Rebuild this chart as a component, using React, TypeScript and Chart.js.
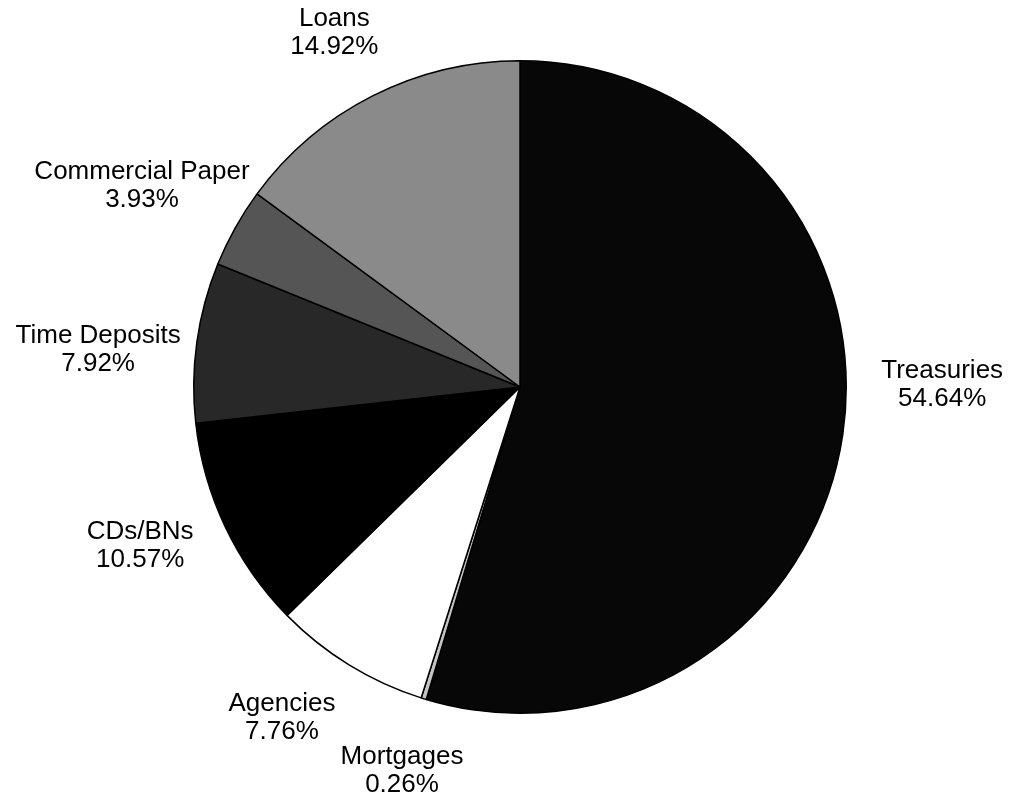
import React, { useEffect, useRef } from "react";
import { Chart, registerables } from "chart.js";

Chart.register(...registerables);

const categories = ["Treasuries", "Mortgages", "Agencies", "CDs/BNs", "Time Deposits", "Commercial Paper", "Loans"];
const shares = [54.64, 0.26, 7.76, 10.57, 7.92, 3.93, 14.92];
const percentLabels = ["54.64%", "0.26%", "7.76%", "10.57%", "7.92%", "3.93%", "14.92%"];
const sliceColors = ["#070707", "#c4c4c4", "#ffffff", "#000000", "#282828", "#555555", "#8a8a8a"];

// label placement: angle shift (degrees) from slice middle and distance as a multiple of radius
const labelAngleShift = [-8.65, -0.1, 4.1, 2.7, -2.9, -1.15, -0.8];
const labelDistance = [1.294, 1.232, 1.25, 1.262, 1.298, 1.313, 1.226];

const labelPlugin = {
  id: "outsideLabels",
  afterDatasetsDraw(chart: any) {
    const ctx = chart.ctx;
    const meta = chart.getDatasetMeta(0);
    ctx.save();
    ctx.font = '26px "Liberation Sans", Arial, sans-serif';
    ctx.fillStyle = "#000";
    ctx.textAlign = "center";
    ctx.textBaseline = "middle";
    meta.data.forEach((arc: any, i: number) => {
      const p = arc.getProps(["x", "y", "startAngle", "endAngle", "outerRadius"], true);
      const mid = (p.startAngle + p.endAngle) / 2 + (labelAngleShift[i] * Math.PI) / 180;
      const d = p.outerRadius * labelDistance[i];
      const cx = p.x + Math.cos(mid) * d;
      const cy = p.y + Math.sin(mid) * d;
      ctx.fillText(categories[i], cx, cy - 14);
      ctx.fillText(percentLabels[i], cx, cy + 14);
    });
    ctx.restore();
  },
};

export default function App() {
  const ref = useRef<HTMLCanvasElement | null>(null);
  useEffect(() => {
    if (!ref.current) return;
    const chart = new Chart(ref.current, {
      type: "pie",
      data: {
        labels: categories,
        datasets: [
          {
            data: shares,
            backgroundColor: sliceColors,
            borderColor: "#000000",
            borderWidth: 1.5,
          },
        ],
      },
      options: {
        responsive: false,
        animation: false,
        layout: { padding: { left: 193, right: 167, top: 60, bottom: 84 } },
        plugins: {
          legend: { display: false },
          tooltip: { enabled: false },
        },
      },
      plugins: [labelPlugin],
    });
    return () => chart.destroy();
  }, []);
  return (
    <div style={{ position: "fixed", left: 0, top: 0, width: 1014, height: 798, background: "#fff" }}>
      <canvas ref={ref} width={1014} height={798} style={{ width: 1014, height: 798 }} />
    </div>
  );
}
